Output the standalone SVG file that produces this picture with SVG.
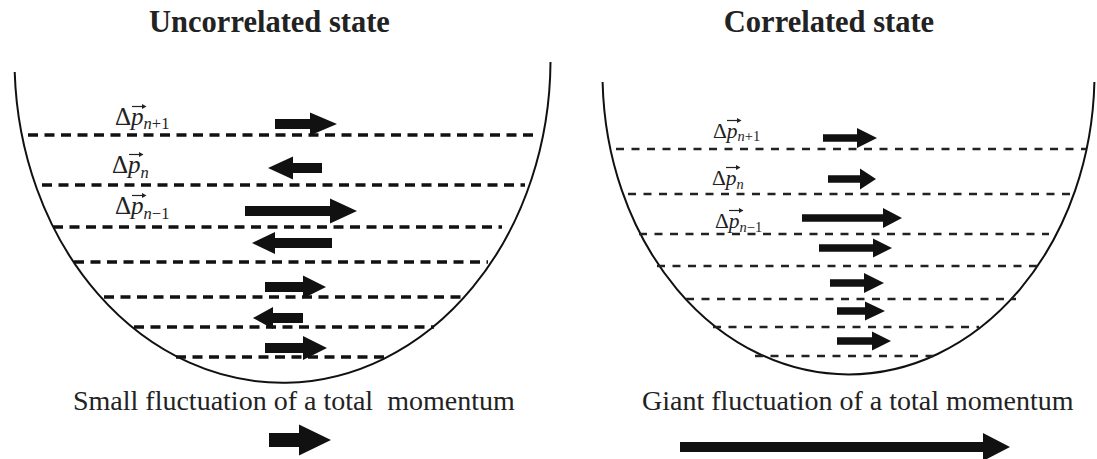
<svg xmlns="http://www.w3.org/2000/svg" width="1097" height="459" viewBox="0 0 1097 459">
<style>
  .title{font-family:"Liberation Serif","Times New Roman",serif;font-weight:bold;font-size:30.5px;fill:#222;text-anchor:middle}
  .cap{font-family:"Liberation Serif","Times New Roman",serif;font-size:28px;fill:#222;white-space:pre}
  .lblL{font-family:"Liberation Serif","Times New Roman",serif;font-size:25px;fill:#222}
  .lblR{font-family:"Liberation Serif","Times New Roman",serif;font-size:21.5px;fill:#222}
  .it{font-style:italic}
  .subL{font-size:16.5px}
  .subR{font-size:14.5px}
  .bowl{fill:none;stroke:#111;stroke-width:2}
  .dashL{fill:none;stroke:#111;stroke-width:3.5;stroke-dasharray:10 6.5}
  .dashR{fill:none;stroke:#222;stroke-width:2.3;stroke-dasharray:8 7.5}
  .arr{fill:#111;stroke:none}
  .vec{fill:none;stroke:#222;stroke-width:1.2}
  .vech{fill:#222}
</style>
<rect width="1097" height="459" fill="#fff"/>

<g id="uncorrelated">
  <text class="title" x="269.5" y="32">Uncorrelated state</text>
  <path class="bowl" d="M 14.7,72 A 268 323 0 0 0 550.5,62"/>
  <g id="layers-left">
    <line class="dashL" x1="28" y1="135" x2="534" y2="135"/>
    <line class="dashL" x1="42" y1="185" x2="525" y2="185"/>
    <line class="dashL" x1="53" y1="227" x2="502" y2="227"/>
    <line class="dashL" x1="74" y1="262" x2="488" y2="262"/>
    <line class="dashL" x1="104" y1="297" x2="464" y2="297"/>
    <line class="dashL" x1="134" y1="327" x2="434" y2="327"/>
    <line class="dashL" x1="176" y1="357" x2="390" y2="357"/>
  </g>
  <g id="arrows-left">
    <polygon class="arr" points="275,119 310,119 310,112.5 337,124 310,135.5 310,129 275,129"/>
    <polygon class="arr" points="322,163 293,163 293,156.5 268,168 293,179.5 293,173 322,173"/>
    <polygon class="arr" points="245,206 330,206 330,198.5 357,211 330,223.5 330,216 245,216"/>
    <polygon class="arr" points="332,238 275,238 275,232 252,243 275,254 275,248 332,248"/>
    <polygon class="arr" points="265,282 303,282 303,275.5 326,287 303,298.5 303,292 265,292"/>
    <polygon class="arr" points="303,313 273,313 273,307 253,318 273,329 273,323 303,323"/>
    <polygon class="arr" points="265,343 303,343 303,336 327,348 303,360 303,353 265,353"/>
  </g>
  <g id="labels-left">
    <text class="lblL" x="115" y="125">Δ<tspan class="it">p</tspan><tspan class="subL" dy="4"><tspan class="it">n</tspan>+1</tspan></text>
    <path class="vec" d="M132,106.5 H144"/><polygon class="vech" points="146.5,106.5 142,104 142,109"/>
    <text class="lblL" x="112" y="173">Δ<tspan class="it">p</tspan><tspan class="subL it" dy="5">n</tspan></text>
    <path class="vec" d="M129,154.5 H141"/><polygon class="vech" points="143.5,154.5 139,152 139,157"/>
    <text class="lblL" x="115" y="214">Δ<tspan class="it">p</tspan><tspan class="subL" dy="5"><tspan class="it">n</tspan>−1</tspan></text>
    <path class="vec" d="M132,195.5 H144"/><polygon class="vech" points="146.5,195.5 142,193 142,198"/>
  </g>
  <text class="cap" x="73" y="410" xml:space="preserve">Small fluctuation of a total  momentum</text>
  <polygon class="arr" points="269,433 299,433 299,424.5 331,440 299,455.5 299,447 269,447"/>
</g>

<g id="correlated">
  <text class="title" x="829" y="32">Correlated state</text>
  <path class="bowl" d="M 602.6,82 A 246 301 0 0 0 1094.4,82"/>
  <g id="layers-right">
    <line class="dashR" x1="616" y1="149" x2="1086" y2="149"/>
    <line class="dashR" x1="628" y1="194" x2="1072" y2="194"/>
    <line class="dashR" x1="639" y1="234" x2="1049" y2="234"/>
    <line class="dashR" x1="657" y1="266" x2="1039" y2="266"/>
    <line class="dashR" x1="686" y1="299" x2="1016" y2="299"/>
    <line class="dashR" x1="713" y1="327" x2="979" y2="327"/>
    <line class="dashR" x1="755" y1="356" x2="937" y2="356"/>
  </g>
  <g id="arrows-right">
    <polygon class="arr" points="823,134.2 857,134.2 857,128 877,138 857,148 857,141.8 823,141.8"/>
    <polygon class="arr" points="828,175.2 860,175.2 860,168.5 876,179 860,189.5 860,182.8 828,182.8"/>
    <polygon class="arr" points="802,214.2 883,214.2 883,208 902,218 883,228 883,221.8 802,221.8"/>
    <polygon class="arr" points="819,244.2 873,244.2 873,238.5 892,248 873,257.5 873,251.8 819,251.8"/>
    <polygon class="arr" points="830,279.2 864,279.2 864,273 884,283 864,293 864,286.8 830,286.8"/>
    <polygon class="arr" points="837,307.2 865,307.2 865,301.5 885,311 865,320.5 865,314.8 837,314.8"/>
    <polygon class="arr" points="837,337.2 872,337.2 872,331.5 891,341 872,350.5 872,344.8 837,344.8"/>
  </g>
  <g id="labels-right">
    <text class="lblR" x="713" y="138">Δ<tspan class="it">p</tspan><tspan class="subR" dy="3"><tspan class="it">n</tspan>+1</tspan></text>
    <path class="vec" d="M727,120.5 H739"/><polygon class="vech" points="741.5,120.5 737,118 737,123"/>
    <text class="lblR" x="712" y="185">Δ<tspan class="it">p</tspan><tspan class="subR it" dy="4">n</tspan></text>
    <path class="vec" d="M726,167.5 H738"/><polygon class="vech" points="740.5,167.5 736,165 736,170"/>
    <text class="lblR" x="715" y="228">Δ<tspan class="it">p</tspan><tspan class="subR" dy="4"><tspan class="it">n</tspan>−1</tspan></text>
    <path class="vec" d="M729,210.5 H741"/><polygon class="vech" points="743.5,210.5 739,208 739,213"/>
  </g>
  <text class="cap" x="642" y="410">Giant fluctuation of a total momentum</text>
  <polygon class="arr" points="680,442 983,442 983,433 1010,447 983,461 983,452 680,452"/>
</g>
</svg>
